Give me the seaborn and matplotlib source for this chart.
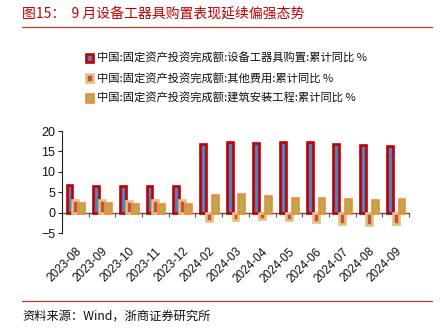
import numpy as np
import pandas as pd
import matplotlib
matplotlib.use("Agg")
import matplotlib.pyplot as plt
from matplotlib.lines import Line2D
import seaborn as sns

# ---- data ----
months = ["2023-08", "2023-09", "2023-10", "2023-11", "2023-12", "2024-02", "2024-03",
          "2024-04", "2024-05", "2024-06", "2024-07", "2024-08", "2024-09"]
equipment = [6.7, 6.6, 6.4, 6.6, 6.6, 16.8, 17.4, 17.1, 17.3, 17.2, 16.9, 16.6, 16.3]
other_cost = [3.2, 3.0, 2.8, 3.0, 3.0, -2.0, -1.9, -1.5, -1.7, -2.3, -2.7, -3.1, -2.9]
construction = [2.3, 2.3, 2.0, 2.0, 2.0, 4.2, 4.6, 4.1, 3.7, 3.7, 3.4, 3.2, 3.3]
series_names = ["中国:固定资产投资完成额:设备工器具购置:累计同比 %",
                "中国:固定资产投资完成额:其他费用:累计同比 %",
                "中国:固定资产投资完成额:建筑安装工程:累计同比 %"]
y_ticks = [-5, 0, 5, 10, 15, 20]
title_text = "图15：  9 月设备工器具购置表现延续偏强态势"
source_text = "资料来源：Wind，浙商证券研究所"

fill_colors = ["#4f81bd", "#c0504d", "#9bbb59"]
edge_colors = ["#c00000", "#e3c27a", "#f08a3c"]

df = pd.DataFrame({
    "month": months * 3,
    "value": equipment + other_cost + construction,
    "series": [series_names[0]] * len(months) + [series_names[1]] * len(months)
              + [series_names[2]] * len(months),
})

sns.set_theme(style="white")
plt.rcParams["font.family"] = ["Liberation Sans", "Noto Sans CJK SC", "DejaVu Sans"]
cjk = ["Noto Sans CJK SC", "DejaVu Sans"]

fig = plt.figure(figsize=(4.42, 3.28), dpi=100)
ax = fig.add_axes([62 / 442, 1 - 233 / 328, (409 - 62) / 442, (233 - 131) / 328])

sns.barplot(data=df, x="month", y="value", hue="series", order=months,
            hue_order=series_names, palette=fill_colors, width=0.66,
            ax=ax, legend=False, saturation=1)

for cont, ec in zip(ax.containers, edge_colors):
    for p in cont.patches:
        p.set_edgecolor(ec)
        p.set_linewidth(1.9)

ax.set_xlim(-0.5, len(months) - 0.5)
ax.set_ylim(-5, 20)
ax.set_yticks(y_ticks)
ax.set_xlabel("")
ax.set_ylabel("")
for s in ["top", "right", "bottom"]:
    ax.spines[s].set_visible(False)
ax.spines["left"].set_color("#222222")
ax.spines["left"].set_linewidth(0.8)
ax.tick_params(axis="y", left=True, length=3, width=0.8, color="#222222",
               labelsize=9, pad=2, labelcolor="#111111")
ax.tick_params(axis="x", bottom=False, length=0, labelsize=8.5, pad=9,
               labelcolor="#111111")
for lab in ax.get_xticklabels():
    lab.set_rotation(45)
    lab.set_ha("right")
    lab.set_rotation_mode("anchor")

# zero line with boundary ticks
sec = ax.secondary_xaxis(5 / 25)
sec.set_xticks(np.arange(-0.5, len(months), 1.0))
sec.set_xticklabels([])
sec.spines["bottom"].set_color("#555555")
sec.spines["bottom"].set_linewidth(1.0)
sec.tick_params(axis="x", direction="out", length=3, width=0.8, color="#555555")

# legend
handles = [cont for cont in ax.containers]
leg = fig.legend(handles, series_names, loc="upper left",
                 bbox_to_anchor=(86 / 442, 1 - 53 / 328), frameon=False,
                 prop={"family": cjk, "size": 8.1}, handlelength=0.65,
                 handleheight=0.65, handletextpad=0.35, labelspacing=0.8,
                 borderaxespad=0, borderpad=0)
for t in leg.get_texts():
    t.set_color("#111111")

# title, rules, source
fig.text(22 / 442, 1 - 14 / 328, title_text, family=cjk, fontsize=10,
         color="#c00000", va="center", ha="left")
fig.add_artist(Line2D([22 / 442, 432 / 442], [1 - 27 / 328, 1 - 27 / 328],
                      color="#c0392b", linewidth=0.9))
fig.add_artist(Line2D([22 / 442, 432 / 442], [1 - 301 / 328, 1 - 301 / 328],
                      color="#c0392b", linewidth=0.9))
fig.text(22 / 442, 1 - 316 / 328, source_text, family=cjk, fontsize=8.8,
         color="#111111", va="center", ha="left")

fig.savefig("out.png", dpi=100)
